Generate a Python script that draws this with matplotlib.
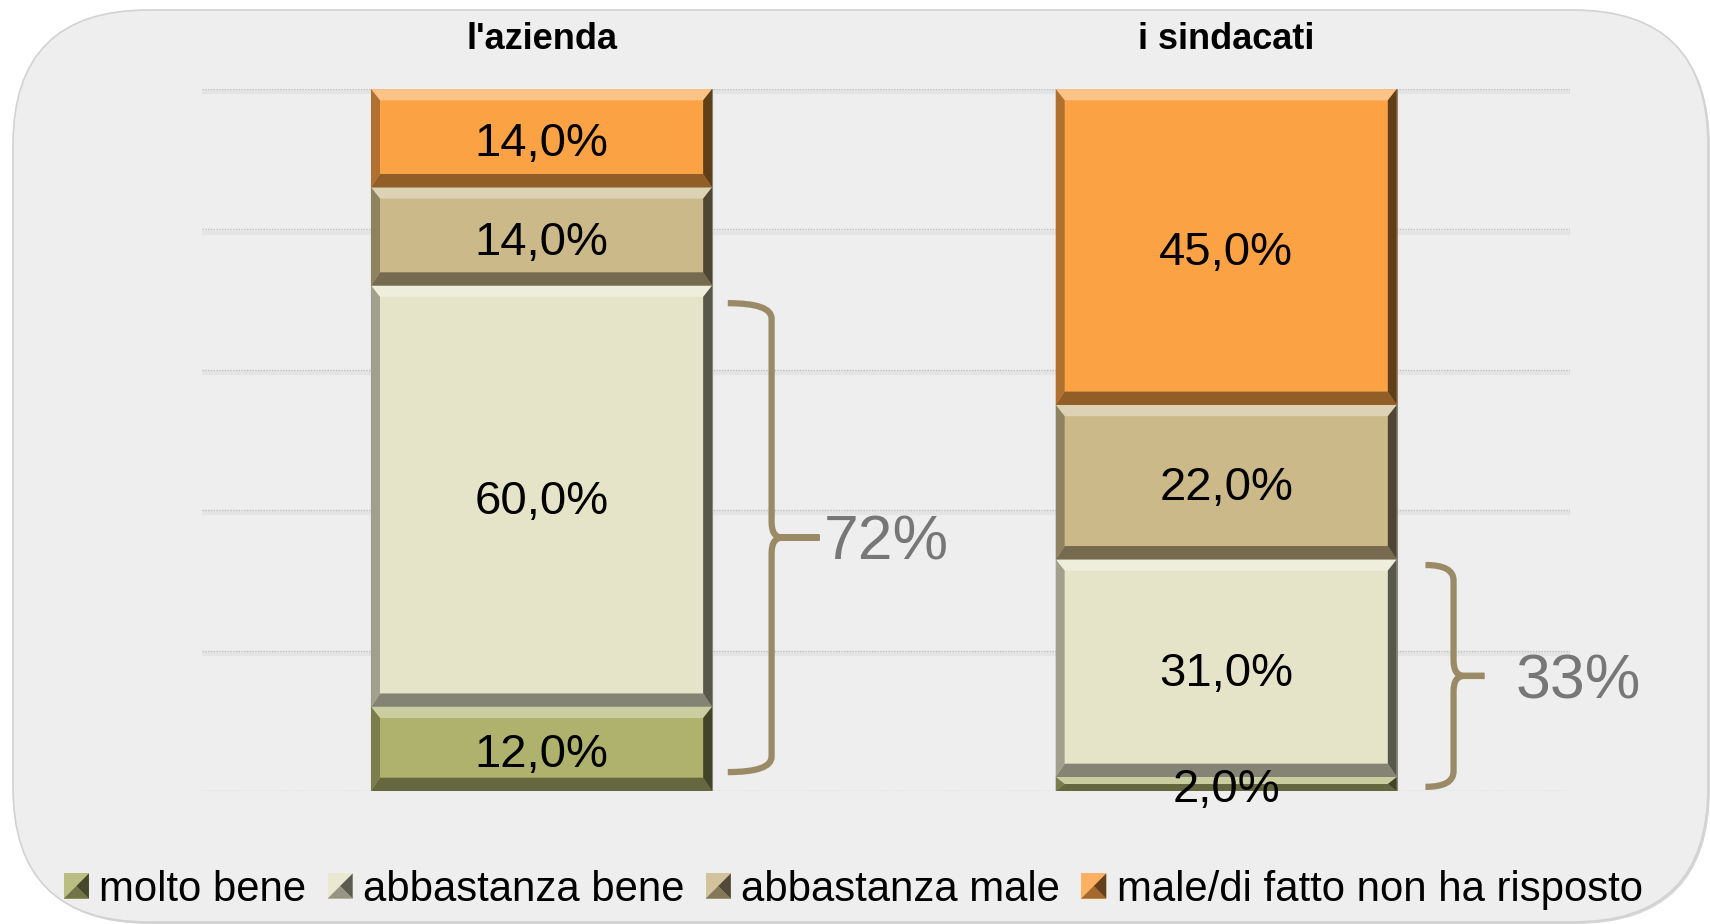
import matplotlib.pyplot as plt
import matplotlib.colors as mcolors
import matplotlib.transforms as mtransforms
from matplotlib.patches import Polygon, Rectangle, FancyBboxPatch, PathPatch, Patch
from matplotlib.path import Path
from matplotlib.legend_handler import HandlerBase

plt.rcParams['font.family'] = ['Liberation Sans', 'DejaVu Sans']

# --- data ---
groups = ["l'azienda", "i sindacati"]
categories = ["molto bene", "abbastanza bene", "abbastanza male",
              "male/di fatto non ha risposto"]
azienda = [12.0, 60.0, 14.0, 14.0]
sindacati = [2.0, 31.0, 22.0, 45.0]
brace_labels = ["72%", "33%"]

colors = ['#aeb26c', '#e6e4c8', '#cbb98a', '#fba245']
brace_color = '#9a8a66'
grid_color = '#bdbdbd'
bg_color = '#eeeeee'


def shade(c, f):
    # f > 0 -> towards white, f < 0 -> towards black
    r, g, b = mcolors.to_rgb(c)
    if f >= 0:
        return (r + (1 - r) * f, g + (1 - g) * f, b + (1 - b) * f)
    return (r * (1 + f), g * (1 + f), b * (1 + f))


def add_bevel(ax, rect, color):
    """bevelled look on one stacked segment (from the bar patch geometry)"""
    x0, y0 = rect.get_x(), rect.get_y()
    w, h = rect.get_width(), rect.get_height()
    x1, y1 = x0 + w, y0 + h
    bt = min(1.6, h / 2)
    bb = min(1.9, h / 2)
    bx = 0.013
    faces = [
        ([(x0, y1), (x1, y1), (x1 - bx, y1 - bt), (x0 + bx, y1 - bt)], shade(color, 0.35)),
        ([(x0, y0), (x1, y0), (x1 - bx, y0 + bb), (x0 + bx, y0 + bb)], shade(color, -0.42)),
        ([(x0, y0), (x0 + bx, y0 + bb), (x0 + bx, y1 - bt), (x0, y1)], shade(color, -0.3)),
        ([(x1, y0), (x1 - bx, y0 + bb), (x1 - bx, y1 - bt), (x1, y1)], shade(color, -0.62)),
    ]
    for pts, fc in faces:
        ax.add_patch(Polygon(pts, closed=True, fc=fc, ec='none', zorder=3))


def draw_brace(ax, x_edge, lo, hi, gap, arm, tip, color):
    xs = x_edge + gap
    xv = xs + arm
    xt = xv + tip
    mid = (lo + hi) / 2
    ry = 2.2
    rx = 0.016
    verts = [(xs, hi), (xv, hi), (xv, hi - ry), (xv, mid + ry),
             (xv, mid), (xv + rx, mid), (xt, mid),
             (xs, lo), (xv, lo), (xv, lo + ry), (xv, mid - ry),
             (xv, mid), (xv + rx, mid), (xt, mid)]
    codes = [Path.MOVETO, Path.CURVE3, Path.CURVE3, Path.LINETO,
             Path.CURVE3, Path.CURVE3, Path.LINETO,
             Path.MOVETO, Path.CURVE3, Path.CURVE3, Path.LINETO,
             Path.CURVE3, Path.CURVE3, Path.LINETO]
    ax.add_patch(PathPatch(Path(verts, codes), fc='none', ec=color, lw=4.5,
                           capstyle='butt', joinstyle='round', zorder=4))
    return xt, mid


class BevelSquare(HandlerBase):
    def create_artists(self, legend, orig_handle, xdescent, ydescent,
                       width, height, fontsize, trans):
        c = orig_handle.get_facecolor()
        s = min(width, height)
        x0 = -xdescent + (width - s) / 2
        y0 = -ydescent + (height - s) / 2
        sq = Rectangle((x0, y0), s, s, fc=shade(c, 0.15), ec='none', transform=trans)
        bot = Polygon([(x0, y0), (x0 + s, y0), (x0 + s / 2, y0 + s / 2)],
                      fc=shade(c, -0.35), ec='none', transform=trans)
        right = Polygon([(x0 + s, y0), (x0 + s, y0 + s), (x0 + s / 2, y0 + s / 2)],
                        fc=shade(c, -0.6), ec='none', transform=trans)
        return [sq, bot, right]


fig = plt.figure(figsize=(17.1, 9.24), dpi=100)
fig.patch.set_facecolor('white')

# rounded panel behind everything (pixel coordinates)
shadow = FancyBboxPatch((15, 0), 1695, 912, boxstyle="round,pad=0,rounding_size=135",
                        fc='#d6d6d6', ec='none', transform=mtransforms.IdentityTransform(),
                        zorder=-3)
panel = FancyBboxPatch((13, 2), 1695, 912, boxstyle="round,pad=0,rounding_size=135",
                       fc=bg_color, ec='#d2d2d2', lw=1.2,
                       transform=mtransforms.IdentityTransform(), zorder=-2)
fig.add_artist(shadow)
fig.add_artist(panel)

ax = fig.add_axes([0.1181, 0.1439, 0.8, 0.7597])
ax.set_facecolor('none')
ax.set_xlim(-0.496, 1.502)
ax.set_ylim(0, 100)
for s in ax.spines.values():
    s.set_visible(False)
ax.set_xticks([])
ax.set_yticks([])

# gridlines with a faint shadow under each
for yv in range(0, 101, 20):
    ax.axhline(yv - 0.45, color='#e4e4e4', lw=3, zorder=0)
    ax.axhline(yv, color=grid_color, lw=1, ls=(0, (1, 1)), zorder=1)

series = [azienda, sindacati]
xpos = [0, 1]
width = 0.498
bottoms = [0.0, 0.0]
for k, cat in enumerate(categories):
    vals = [series[0][k], series[1][k]]
    cont = ax.bar(xpos, vals, width=width, bottom=bottoms, color=colors[k],
                  edgecolor='#8a8a7c', linewidth=0.8, zorder=2, label=cat)
    for rect in cont.patches:
        add_bevel(ax, rect, colors[k])
    labels = [f"{v:.1f}%".replace('.', ',') for v in vals]
    txts = ax.bar_label(cont, labels=labels, label_type='center', fontsize=34,
                        color='black', zorder=5)
    for t in txts:
        t.set_zorder(5)
        t.xyann = (0, -4.5)
    bottoms = [bottoms[i] + vals[i] for i in range(2)]

for i, g in enumerate(groups):
    ax.text(xpos[i], 107.0, g, ha='center', va='center', fontsize=26,
            fontweight='bold', color='black')

# braces: molto bene + abbastanza bene
brace_style = [dict(gap=0.023, arm=0.064, tip=0.07, lo_in=2.7, hi_in=2.5, pad=0.006),
               dict(gap=0.042, arm=0.041, tip=0.045, lo_in=0.6, hi_in=0.8, pad=0.045)]
for i, lab in enumerate(brace_labels):
    st = brace_style[i]
    total = series[i][0] + series[i][1]
    xt, mid = draw_brace(ax, xpos[i] + width / 2, st['lo_in'], total - st['hi_in'],
                         st['gap'], st['arm'], st['tip'], brace_color)
    ax.text(xt + st['pad'], mid - 0.8, lab, ha='left', va='center', fontsize=45,
            color='#777777')

handles = [Patch(facecolor=c) for c in colors]
fig.legend(handles, categories, handler_map={Patch: BevelSquare()},
           loc='center', bbox_to_anchor=(0.499, 0.037), ncol=4, frameon=False,
           fontsize=30.2, handlelength=0.6, handleheight=0.6, handletextpad=0.25,
           columnspacing=0.5, borderaxespad=0, borderpad=0)

fig.savefig('out.png', dpi=100)
